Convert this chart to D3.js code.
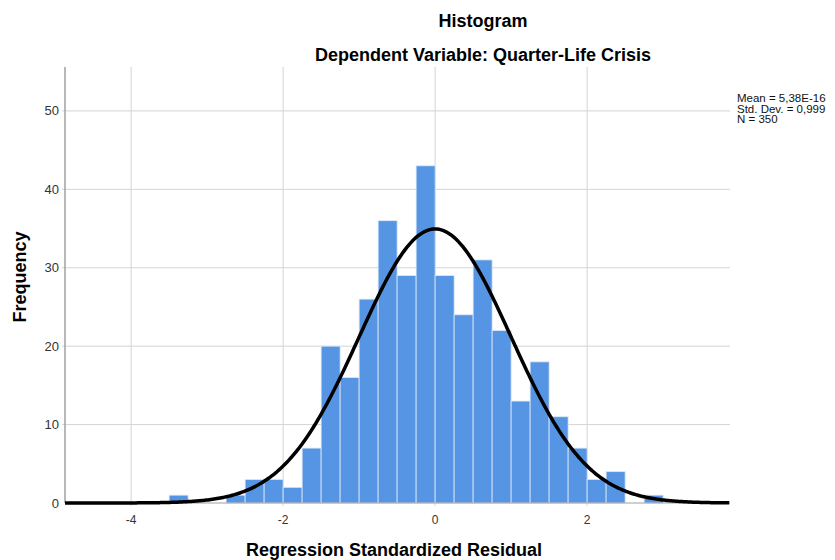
<!DOCTYPE html>
<html>
<head>
<meta charset="utf-8">
<script src="https://cdn.jsdelivr.net/npm/d3@7"></script>
<style>
  body { margin: 0; background: #fff; }
  svg text { font-family: "Liberation Sans", Arial, sans-serif; }
</style>
</head>
<body>
<div id="chart"></div>
<script>
const width = 835;
const height = 560;

// bin lower edges (width 0.25) and their counts
const binStarts = [-3.5, -3.25, -3.0, -2.75, -2.5, -2.25, -2.0, -1.75, -1.5, -1.25, -1.0, -0.75,
    -0.5, -0.25, 0.0, 0.25, 0.5, 0.75, 1.0, 1.25, 1.5, 1.75, 2.0, 2.25, 2.5, 2.75];
const counts = [1, 0, 0, 1, 3, 3, 2, 7, 20, 16, 26, 36,
    29, 43, 29, 24, 31, 22, 13, 18, 11, 7, 3, 4, 0, 1];
const binWidth = 0.25;

const xTicks = [-4, -2, 0, 2];
const yTicks = [0, 10, 20, 30, 40, 50];
const statLines = ["Mean = 5,38E-16", "Std. Dev. = 0,999", "N = 350"];
const mean = 5.38e-16, sd = 0.999, n = 350;

const margin = { left: 65, right: 105, top: 67, bottom: 57 };

const x = d3.scaleLinear()
    .domain([-4.87, 3.88])
    .range([margin.left, width - margin.right]);

const y = d3.scaleLinear()
    .domain([0, 55.6])
    .range([height - margin.bottom, margin.top]);

const svg = d3.select("#chart")
    .append("svg")
    .attr("width", width)
    .attr("height", height);

// grid
svg.append("g")
    .selectAll("line")
    .data(yTicks.filter(d => d > 0))
    .enter().append("line")
    .attr("x1", margin.left - 3)
    .attr("x2", x.range()[1])
    .attr("y1", d => y(d))
    .attr("y2", d => y(d))
    .attr("stroke", "#d4d4d4")
    .attr("stroke-width", 1);

svg.append("g")
    .selectAll("line")
    .data(xTicks)
    .enter().append("line")
    .attr("x1", d => x(d))
    .attr("x2", d => x(d))
    .attr("y1", y.range()[1])
    .attr("y2", y(0) + 3)
    .attr("stroke", "#d4d4d4")
    .attr("stroke-width", 1);

// bars
svg.append("g")
    .selectAll("rect")
    .data(binStarts.map((s, i) => ({ s, c: counts[i] })).filter(d => d.c > 0))
    .enter().append("rect")
    .attr("x", d => x(d.s))
    .attr("y", d => y(d.c))
    .attr("width", d => x(d.s + binWidth) - x(d.s))
    .attr("height", d => y(0) - y(d.c))
    .attr("fill", "#5595e3")
    .attr("stroke", "#dde8f7")
    .attr("stroke-width", 0.8);

// axes lines
svg.append("line")
    .attr("x1", margin.left).attr("x2", margin.left)
    .attr("y1", y.range()[1]).attr("y2", y(0))
    .attr("stroke", "#a0a0a0").attr("stroke-width", 1.5);
svg.append("line")
    .attr("x1", margin.left).attr("x2", x.range()[1])
    .attr("y1", y(0)).attr("y2", y(0))
    .attr("stroke", "#a0a0a0").attr("stroke-width", 1.2);

// normal curve
const curveX = d3.range(x.domain()[0], x.domain()[1] + 0.001, 0.02);
const normal = v => n * binWidth * Math.exp(-0.5 * ((v - mean) / sd) ** 2) / (sd * Math.sqrt(2 * Math.PI));
svg.append("path")
    .datum(curveX)
    .attr("d", d3.line().x(d => x(d)).y(d => y(normal(d))))
    .attr("fill", "none")
    .attr("stroke", "#000")
    .attr("stroke-width", 3.5);

// tick labels
svg.append("g")
    .selectAll("text")
    .data(yTicks)
    .enter().append("text")
    .attr("x", margin.left - 6)
    .attr("y", d => y(d) + 4.5)
    .attr("text-anchor", "end")
    .attr("font-size", 13)
    .attr("fill", "#333")
    .text(d => d);

svg.append("g")
    .selectAll("text")
    .data(xTicks)
    .enter().append("text")
    .attr("x", d => x(d))
    .attr("y", y(0) + 21)
    .attr("text-anchor", "middle")
    .attr("font-size", 12)
    .attr("fill", "#333")
    .text(d => d);

// titles
svg.append("text")
    .attr("x", 483).attr("y", 27)
    .attr("text-anchor", "middle")
    .attr("font-size", 18).attr("font-weight", "bold")
    .text("Histogram");
svg.append("text")
    .attr("x", 483).attr("y", 61)
    .attr("text-anchor", "middle")
    .attr("font-size", 18).attr("font-weight", "bold")
    .text("Dependent Variable: Quarter-Life Crisis");

svg.append("text")
    .attr("x", 394).attr("y", 556)
    .attr("text-anchor", "middle")
    .attr("font-size", 18).attr("font-weight", "bold")
    .text("Regression Standardized Residual");

svg.append("text")
    .attr("transform", "translate(26, 277) rotate(-90)")
    .attr("text-anchor", "middle")
    .attr("font-size", 18).attr("font-weight", "bold")
    .text("Frequency");

// stats box
svg.append("g")
    .selectAll("text")
    .data(statLines)
    .enter().append("text")
    .attr("x", 737)
    .attr("y", (d, i) => 102 + i * 10.5)
    .attr("font-size", 11.5)
    .attr("fill", "#111")
    .text(d => d);
</script>
</body>
</html>
